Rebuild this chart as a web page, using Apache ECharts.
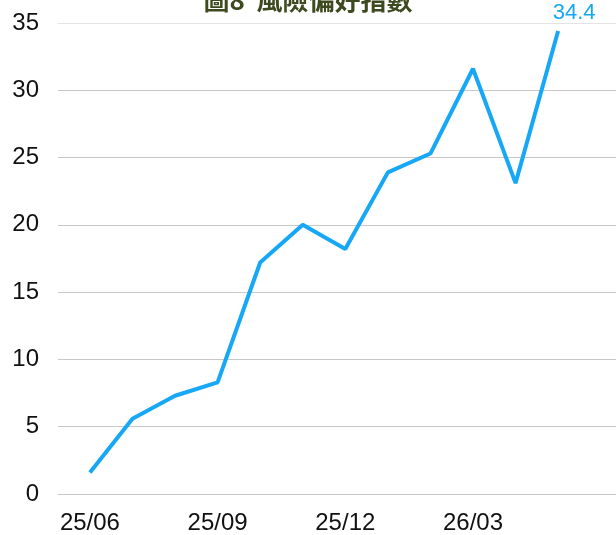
<!DOCTYPE html>
<html>
<head>
<meta charset="utf-8">
<script src="https://cdn.jsdelivr.net/npm/echarts@6/dist/echarts.min.js"></script>
<style>
  html, body { margin: 0; padding: 0; background: #fff; }
  #chart { width: 616px; height: 535px; }
</style>
</head>
<body>
<div id="chart"></div>
<script>
// 月份 & 指數
const months = ["25/06", "25/07", "25/08", "25/09", "25/10", "25/11", "25/12", "26/01", "26/02", "26/03", "26/04", "26/05"];
const riskIndex = [1.6, 5.6, 7.3, 8.3, 17.2, 20.0, 18.2, 23.9, 25.3, 31.6, 23.1, 34.4];
const labelMonths = [0, 3, 6, 9];
const yTicks = { min: 0, max: 35, step: 5 };

const blue = "#16a8f6";
const font = "Liberation Sans, Arial, sans-serif";

const chart = echarts.init(document.getElementById("chart"));
chart.setOption({
  animation: false,
  title: {
    text: "圖8  風險偏好指數",
    left: "center",
    top: -18,
    textStyle: { color: "#3d4a1f", fontSize: 26, fontWeight: "bold", fontFamily: "Noto Sans CJK TC, sans-serif" }
  },
  grid: { left: 58, right: 0, top: 23, bottom: 40 },
  xAxis: {
    type: "value",
    min: -0.75,
    max: 12.36,
    splitLine: { show: false },
    axisTick: { show: false },
    axisLine: { show: true, lineStyle: { color: "#c8c8c8" } },
    axisLabel: {
      customValues: labelMonths,
      formatter: (v) => months[Math.round(v)] || "",
      color: "#111",
      fontSize: 24,
      fontFamily: font,
      margin: 17
    }
  },
  yAxis: {
    type: "value",
    min: yTicks.min,
    max: yTicks.max,
    interval: yTicks.step,
    axisLine: { show: false },
    axisTick: { show: false },
    axisLabel: { color: "#111", fontSize: 24, fontFamily: font, margin: 19 },
    splitLine: {
      lineStyle: { color: ["#c8c8c8", "#c8c8c8", "#c8c8c8", "#c8c8c8", "#c8c8c8", "#c8c8c8", "#c8c8c8", "#e4e4e4"], width: 1 }
    }
  },
  series: [{
    type: "line",
    data: riskIndex.map((v, i) => [i, v]),
    symbol: "none",
    lineStyle: { color: blue, width: 4 },
    itemStyle: { color: blue },
    markPoint: {
      symbol: "circle",
      symbolSize: 0,
      data: [{ coord: [riskIndex.length - 1, riskIndex[riskIndex.length - 1]], value: riskIndex[riskIndex.length - 1] }],
      label: {
        show: true,
        position: "top",
        offset: [16, -2],
        color: blue,
        fontSize: 22,
        fontFamily: font,
        formatter: (p) => p.value.toFixed(1)
      }
    }
  }]
});
</script>
</body>
</html>
